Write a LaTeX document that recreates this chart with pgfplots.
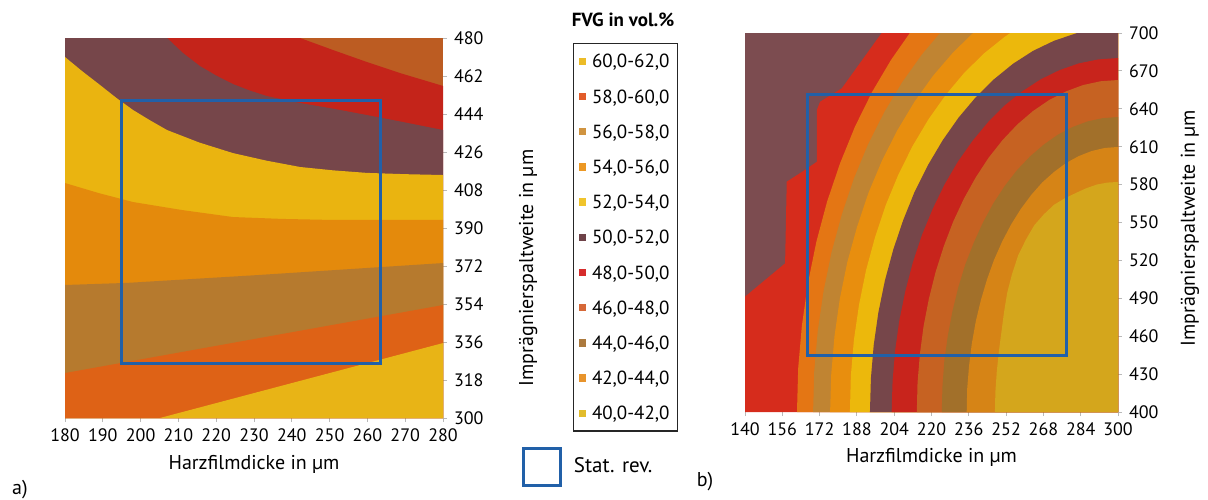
\documentclass[border=0pt]{standalone}
\usepackage{fontspec}
\setmainfont{PT Sans}
\usepackage{pgfplots}
\pgfplotsset{compat=1.18}

% legend colours
\definecolor{lgA}{RGB}{236,188,40}
\definecolor{lgB}{RGB}{226,92,42}
\definecolor{lgC}{RGB}{208,148,64}
\definecolor{lgD}{RGB}{236,152,36}
\definecolor{lgE}{RGB}{240,196,44}
\definecolor{lgF}{RGB}{110,66,72}
\definecolor{lgG}{RGB}{214,44,44}
\definecolor{lgH}{RGB}{214,104,56}
\definecolor{lgI}{RGB}{172,122,62}
\definecolor{lgJ}{RGB}{232,148,44}
\definecolor{lgK}{RGB}{226,188,44}
% panel a bands
\definecolor{aR0}{RGB}{188,92,34}
\definecolor{aR1}{RGB}{196,36,26}
\definecolor{aR2}{RGB}{118,70,74}
\definecolor{aR3}{RGB}{234,180,16}
\definecolor{aR4}{RGB}{228,138,12}
\definecolor{aR5}{RGB}{182,122,46}
\definecolor{aR6}{RGB}{222,98,22}
\definecolor{aR7}{RGB}{232,180,22}
% panel b bands
\definecolor{bP0}{RGB}{124,76,80}
\definecolor{bP1}{RGB}{214,44,28}
\definecolor{bP2}{RGB}{228,118,20}
\definecolor{bP3}{RGB}{192,132,50}
\definecolor{bP4}{RGB}{232,142,14}
\definecolor{bP5}{RGB}{236,184,12}
\definecolor{bP6}{RGB}{118,70,74}
\definecolor{bP7}{RGB}{200,36,28}
\definecolor{bP8}{RGB}{198,98,34}
\definecolor{bP9}{RGB}{162,112,42}
\definecolor{bP10}{RGB}{214,132,22}
\definecolor{bP11}{RGB}{212,166,28}
\definecolor{statblue}{RGB}{33,96,168}

\pgfplotsset{
  contourpanel/.style={
    scale only axis, anchor=south west, enlargelimits=false,
    axis x line*=bottom, axis y line*=right, axis line style={draw=none},
    tick align=outside, major tick length=2pt, tick style={gray!55, line width=0.5pt},
    /pgf/number format/assume math mode=true,
    ticklabel style={font=\fontsize{9}{10}\selectfont},
    label style={font=\fontsize{9}{10}\selectfont},
    every axis x label/.style={at={(axis description cs:0.5,-0.121)}, anchor=center},
  },
  band/.style={draw=none, fill=#1, forget plot},
}

\begin{document}
\begin{tikzpicture}
\path[use as bounding box] (0pt,0pt) rectangle (604pt,249.5pt);

% ---------- a) ----------
\begin{axis}[contourpanel,
  at={(32.5pt,40.5pt)}, width=189pt, height=190pt,
  xmin=180, xmax=280, ymin=300, ymax=480,
  xtick={180,190,...,280}, ytick={300,318,...,480},
  xlabel={Harzfilmdicke in µm},
  ylabel={Imprägnierspaltweite in µm},
  every axis y label/.style={at={(axis description cs:1.225,0.395)}, rotate=90, anchor=center},
]
\addplot[band=aR0] coordinates {(180,300) (280,300) (280,480) (180,480)} -- cycle;
\addplot[band=aR1] coordinates {(180,300) (180,480) (242.2,480) (250.9,474.3) (259.9,468.6) (268.6,463.4) (280,457.3) (280,300)} -- cycle;
\addplot[band=aR2] coordinates {(180,300) (180,480) (207.0,480) (211.2,472.9) (215.7,466.7) (220,462.2) (224.4,458.2) (228.9,455.1) (233.4,452.5) (242.2,449.2) (251,446.5) (259.9,443.5) (270,440) (280,436.4) (280,300)} -- cycle;
\addplot[band=aR3] coordinates {(180,300) (180,471.0) (184.6,464.2) (189.3,457.7) (193.6,451.6) (198.0,445.9) (202.5,441.0) (207.0,436.4) (215.5,430.5) (224.4,425.5) (233.3,421.9) (242.2,418.9) (251,417.3) (259.9,416.1) (270,415.5) (280,415.1) (280,300)} -- cycle;
\addplot[band=aR4] coordinates {(180,300) (180,411.3) (189,406.5) (198,402.3) (211,398.5) (224.4,395.2) (237.5,394.3) (250.9,393.8) (280,393.8) (280,300)} -- cycle;
\addplot[band=aR5] coordinates {(180,300) (180,363.0) (196.4,364.0) (230,367.6) (280,373.4) (280,300)} -- cycle;
\addplot[band=aR6] coordinates {(180,300) (180,321.3) (280,353.5) (280,300)} -- cycle;
\addplot[band=aR7] coordinates {(205.1,300) (280,335.5) (280,300)} -- cycle;
% stat. rev. region
\addplot[draw=statblue, line width=1.5pt, forget plot] coordinates {(195,326) (263.5,326) (263.5,450.5) (195,450.5)} -- cycle;
\end{axis}

% ---------- b) ----------
\begin{axis}[contourpanel,
  at={(372.5pt,43.5pt)}, width=186.5pt, height=189.5pt,
  xmin=140, xmax=300, ymin=400, ymax=700,
  xtick={140,156,...,300}, ytick={400,430,...,700},
  xlabel={Harzfilmdicke in µm},
  ylabel={Imprägnierspaltweite in µm},
  every axis y label/.style={at={(axis description cs:1.193,0.485)}, rotate=90, anchor=center},
]
\addplot[band=bP0] coordinates {(140,400) (300,400) (300,700) (140,700)} -- cycle;
\addplot[band=bP1] coordinates {(198.6,700) (181.5,656.2) (172.2,645.6) (170.8,639.0) (170.8,598.1) (165.7,591.6) (157.9,582.3) (157.2,517.7) (140,491.3) (140,400) (300,400) (300,700)} -- cycle;
\addplot[band=bP2] coordinates {(162.3,400) (162.8,434.4) (164.4,468.4) (167.0,502.0) (170.6,534.7) (175.2,566.5) (180.8,597.0) (187.2,626.0) (194.5,653.3) (202.6,678.6) (210.7,700) (300,700) (300,400)} -- cycle;
\addplot[band=bP3] coordinates {(169.2,400) (169.7,432.2) (171.2,464.1) (173.7,495.6) (177.1,526.3) (181.5,556.1) (186.7,584.7) (192.8,611.9) (199.8,637.5) (207.5,661.2) (215.9,683.0) (223.7,700) (300,700) (300,400)} -- cycle;
\addplot[band=bP4] coordinates {(176.5,400) (177.0,430.3) (178.4,460.3) (180.7,489.9) (183.9,518.8) (188.1,546.8) (193.0,573.7) (198.8,599.2) (205.4,623.2) (212.7,645.6) (220.6,666.0) (229.2,684.5) (237.8,700) (300,700) (300,400)} -- cycle;
\addplot[band=bP5] coordinates {(185.0,400) (185.4,428.6) (186.7,456.9) (188.9,484.8) (191.9,512.1) (195.8,538.5) (200.4,563.9) (205.8,588.0) (211.9,610.6) (218.7,631.7) (226.1,651.0) (234.0,668.4) (242.5,683.8) (251.4,697.0) (253.8,700) (300,700) (300,400)} -- cycle;
\addplot[band=bP6] coordinates {(193.6,400) (194.0,426.5) (195.2,452.8) (197.2,478.7) (200.0,504.0) (203.6,528.6) (207.9,552.1) (212.8,574.5) (218.5,595.5) (224.8,615.1) (231.6,633.0) (239.0,649.2) (246.8,663.4) (255.0,675.7) (263.6,685.9) (272.5,693.8) (282.4,700) (300,700) (300,400)} -- cycle;
\addplot[band=bP7] coordinates {(202.9,400) (203.3,424.4) (204.4,448.6) (206.2,472.5) (208.8,495.8) (212.0,518.4) (215.9,540.1) (220.5,560.7) (225.6,580.1) (231.3,598.1) (237.6,614.6) (244.3,629.5) (251.4,642.7) (259.0,653.9) (266.8,663.3) (274.9,670.6) (283.1,675.9) (291.5,679.1) (300,680.2) (300,400)} -- cycle;
\addplot[band=bP8] coordinates {(213.7,400) (214.0,422.9) (215.0,445.6) (216.6,468.0) (218.9,489.9) (221.8,511.1) (225.3,531.4) (229.3,550.7) (233.9,568.9) (239.0,585.8) (244.5,601.3) (250.5,615.3) (256.8,627.6) (263.5,638.2) (270.5,647.0) (277.7,653.8) (285.0,658.8) (292.5,661.8) (300,662.8) (300,400)} -- cycle;
\addplot[band=bP9] coordinates {(224.4,400) (224.7,420.4) (225.5,440.5) (227.0,460.4) (229.0,479.9) (231.5,498.7) (234.5,516.8) (238.1,533.9) (242.1,550.1) (246.5,565.1) (251.4,578.9) (256.6,591.3) (262.2,602.2) (268.1,611.6) (274.1,619.4) (280.4,625.5) (286.9,630.0) (293.4,632.6) (300,633.5) (300,400)} -- cycle;
\addplot[band=bP10] coordinates {(235.1,400) (235.3,418.3) (236.1,436.4) (237.3,454.3) (239.0,471.8) (241.2,488.7) (243.8,504.9) (246.8,520.3) (250.3,534.9) (254.1,548.3) (258.3,560.7) (262.8,571.9) (267.5,581.7) (272.6,590.1) (277.8,597.2) (283.2,602.6) (288.7,606.6) (294.3,609.0) (300,609.8) (300,400)} -- cycle;
\addplot[band=bP11] coordinates {(247.2,400) (247.4,416) (248.0,432.0) (248.9,448) (250.0,463.5) (251.1,479) (252.5,494.7) (254.6,509.6) (257.2,524.1) (260.5,536.5) (264.1,547.9) (268.2,556.5) (272.5,564.0) (277,569) (281.5,573.0) (286.2,577) (290.8,580.0) (295.4,581.6) (300,582.1) (300,400)} -- cycle;
\addplot[draw=statblue, line width=1.5pt, forget plot] coordinates {(167,445) (278,445) (278,651) (167,651)} -- cycle;
\end{axis}

% ---------- legend ----------
\begin{axis}[scale only axis, anchor=south west, at={(286.5pt,34.5pt)},
  width=52.5pt, height=193.5pt, hide axis, xmin=0, xmax=1, ymin=0, ymax=1,
  legend image code/.code={\fill[#1] (0pt,-1.85pt) rectangle (3.65pt,1.85pt);},
  legend style={at={(0,1)}, anchor=north west, draw=black!85, line width=0.7pt,
    inner xsep=2.7pt, inner ysep=0pt, row sep=0pt, column sep=2.8pt,
    cells={anchor=west},
    nodes={inner sep=0pt, minimum height=17.6pt, text height=6.6pt, text depth=0pt,
      text width=40pt, align=left, font=\fontsize{9.5}{11}\selectfont}},
]
\addlegendimage{draw=none, fill=lgA}\addlegendentry{60,0-62,0}
\addlegendimage{draw=none, fill=lgB}\addlegendentry{58,0-60,0}
\addlegendimage{draw=none, fill=lgC}\addlegendentry{56,0-58,0}
\addlegendimage{draw=none, fill=lgD}\addlegendentry{54,0-56,0}
\addlegendimage{draw=none, fill=lgE}\addlegendentry{52,0-54,0}
\addlegendimage{draw=none, fill=lgF}\addlegendentry{50,0-52,0}
\addlegendimage{draw=none, fill=lgG}\addlegendentry{48,0-50,0}
\addlegendimage{draw=none, fill=lgH}\addlegendentry{46,0-48,0}
\addlegendimage{draw=none, fill=lgI}\addlegendentry{44,0-46,0}
\addlegendimage{draw=none, fill=lgJ}\addlegendentry{42,0-44,0}
\addlegendimage{draw=none, fill=lgK}\addlegendentry{40,0-42,0}
\end{axis}

% ---------- Stat. rev. key ----------
\begin{axis}[scale only axis, anchor=south west, at={(260.75pt,6pt)},
  width=80pt, height=20pt, hide axis, xmin=0, xmax=1, ymin=0, ymax=1,
  legend image code/.code={\draw[#1] (0pt,-9.25pt) rectangle (18.5pt,9.25pt);},
  legend style={at={(0,0.5)}, anchor=west, draw=none, fill=none,
    inner sep=0pt, column sep=6pt,
    nodes={inner sep=0pt, font=\fontsize{10.5}{12}\selectfont}},
]
\addlegendimage{draw=statblue, line width=1.5pt}\addlegendentry{Stat. rev.}
\end{axis}

\node[font=\bfseries\fontsize{9.5}{11}\selectfont] at (311.5pt,239.5pt) {FVG in vol.\%};
\node[font=\fontsize{10}{12}\selectfont] at (10pt,4.5pt) {a)};
\node[font=\fontsize{10}{12}\selectfont] at (352.5pt,8.5pt) {b)};
\end{tikzpicture}
\end{document}
